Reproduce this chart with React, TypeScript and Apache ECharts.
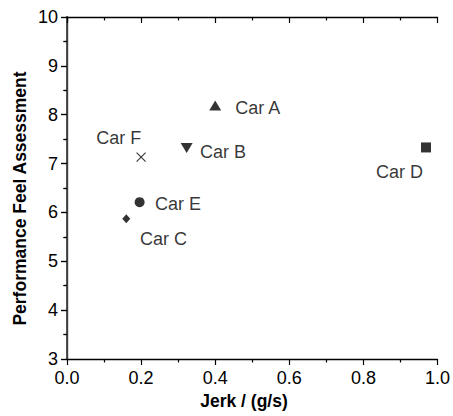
import React, { useEffect, useRef } from "react";
import * as echarts from "echarts";

const carNames = ["Car A", "Car B", "Car C", "Car D", "Car E", "Car F"];
const jerkValues = [0.4, 0.323, 0.16, 0.969, 0.196, 0.2];
const feelValues = [8.19, 7.32, 5.87, 7.33, 6.21, 7.13];
const xTicks = { min: 0, max: 1, interval: 0.2 };
const yTicks = { min: 3, max: 10, interval: 1 };

const FONT = "'Liberation Sans', Arial, sans-serif";

const markerStyle: Record<string, { symbol: string; size: number | number[]; stroke?: boolean }> = {
  "Car A": { symbol: "triangle", size: [12, 10] },
  "Car B": { symbol: "path://M0,0 L12,0 L6,10 Z", size: [12, 10] },
  "Car C": { symbol: "diamond", size: [8, 9] },
  "Car D": { symbol: "rect", size: 10 },
  "Car E": { symbol: "circle", size: 10 },
  "Car F": { symbol: "path://M0,0 L10,10 M10,0 L0,10", size: 9, stroke: true },
};

const labelOffset: Record<string, number[]> = {
  "Car A": [42.5, 3],
  "Car B": [36.3, 4],
  "Car C": [37.3, 20.7],
  "Car D": [-26.5, 24.7],
  "Car E": [38.4, 2.3],
  "Car F": [-22.4, -19.7],
};

export default function App() {
  const ref = useRef<HTMLDivElement>(null);
  useEffect(() => {
    document.body.style.margin = "0";
    const chart = echarts.init(ref.current!, null, { renderer: "svg" });
    const data = carNames.map((n, i) => {
      const m = markerStyle[n];
      return {
        name: n,
        value: [jerkValues[i], feelValues[i]],
        symbol: m.symbol,
        symbolSize: m.size,
        itemStyle: m.stroke
          ? { color: "rgba(0,0,0,0)", borderColor: "#000", borderWidth: 1.1 }
          : { color: "#000" },
        label: {
          show: true,
          position: "inside",
          offset: labelOffset[n],
          formatter: n,
          color: "#000",
          fontSize: 18,
          fontFamily: FONT,
        },
      };
    });
    const axisLine = { show: true, lineStyle: { color: "#000", width: 1.3 } };
    const tickStyle = { color: "#000", width: 1.2 };
    chart.setOption({
      animation: false,
      backgroundColor: "#fff",
      grid: { left: 67, right: 12, top: 17, bottom: 57, containLabel: false },
      xAxis: [
        {
          type: "value",
          position: "bottom",
          ...xTicks,
          axisLine,
          axisTick: { show: true, length: 6, lineStyle: tickStyle },
          minorTick: { show: true, splitNumber: 2, length: 3.5, lineStyle: tickStyle },
          splitLine: { show: false },
          axisLabel: {
            color: "#000",
            fontSize: 18,
            fontFamily: FONT,
            margin: 10,
            formatter: (v: number) => v.toFixed(1),
          },
        },
        {
          type: "value",
          position: "top",
          ...xTicks,
          axisLine,
          axisTick: { show: true, inside: true, length: 6, lineStyle: tickStyle },
          minorTick: { show: true, splitNumber: 2, length: 3.5, lineStyle: tickStyle },
          splitLine: { show: false },
          axisLabel: { show: false },
        },
      ],
      yAxis: [
        {
          type: "value",
          position: "left",
          ...yTicks,
          axisLine,
          axisTick: { show: true, length: 6, lineStyle: tickStyle },
          minorTick: { show: true, splitNumber: 2, length: 3.5, lineStyle: tickStyle },
          splitLine: { show: false },
          axisLabel: { color: "#000", fontSize: 18, fontFamily: FONT, margin: 9 },
        },
        {
          type: "value",
          position: "right",
          ...yTicks,
          axisLine: { show: true, lineStyle: { color: "#444", width: 1.8 } },
          axisTick: { show: true, inside: true, length: 6, lineStyle: tickStyle },
          minorTick: { show: true, splitNumber: 2, length: 3.5, lineStyle: tickStyle },
          splitLine: { show: false },
          axisLabel: { show: false },
        },
      ],
      graphic: [
        {
          type: "text",
          x: 244,
          y: 401,
          style: {
            text: "Jerk / (g/s)",
            font: `bold 17.5px ${FONT}`,
            fill: "#000",
            textAlign: "center",
            textVerticalAlign: "middle",
          },
        },
        {
          type: "text",
          x: 20,
          y: 198.5,
          rotation: Math.PI / 2,
          style: {
            text: "Performance Feel Assessment",
            font: `bold 17.5px ${FONT}`,
            fill: "#000",
            textAlign: "center",
            textVerticalAlign: "middle",
          },
        },
      ],
      series: [
        {
          type: "scatter",
          xAxisIndex: 0,
          yAxisIndex: 0,
          data,
        },
      ],
    });
    return () => chart.dispose();
  }, []);
  return <div ref={ref} style={{ width: 453, height: 416 }} />;
}
